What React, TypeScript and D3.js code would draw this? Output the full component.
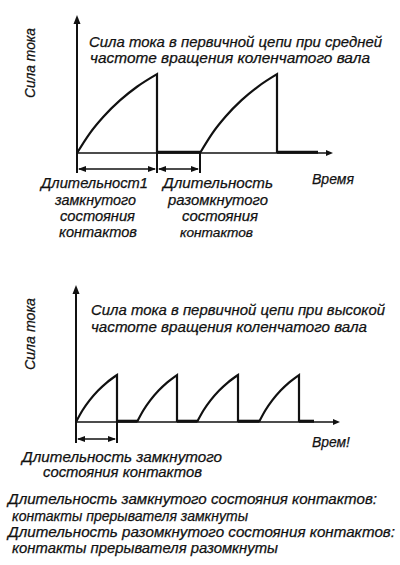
import React from "react";
import * as d3 from "d3";

// ---- data ----
const curveTime = [0, 0.16, 0.33, 0.54, 0.75, 1];
const curveRise = [0, 0.25, 0.46, 0.67, 0.84, 1];

const topClosedStart = [0, 12.3];
const topClosedEnd = [8.0, 20.0];
const topTraceEnd = 24.1;
const topPeak = 1.0;

const bottomClosedStart = [0, 6.1, 12.1, 18.3];
const bottomClosedEnd = [4.1, 10.1, 16.2, 22.3];
const bottomTraceEnd = 23.8;
const bottomPeak = 0.6;

const yAxisLabel = "Сила тока";
const topTitle = ["Сила тока в первичной цепи при средней", "частоте вращения коленчатого вала"];
const bottomTitle = ["Сила тока в первичной цепи при высокой", "частоте вращения коленчатого вала"];
const topXLabel = "Время";
const bottomXLabel = "Врем!";
const topClosedLabel = ["Длительност1", "замкнутого", "состояния", "контактов"];
const topOpenLabel = ["Длительность", "разомкнутого", "состояния", "контактов"];
const bottomClosedLabel = ["Длительность замкнутого", "состояния контактов"];
const footer = [
  "Длительность замкнутого состояния контактов:",
  "контакты прерывателя замкнуты",
  "Длительность разомкнутого состояния контактов:",
  "контакты прерывателя разомкнуты",
];

const FONT = "'Liberation Sans', Arial, sans-serif";
const INK = "#111";

function arrowHead(x: number, y: number, dir: "up" | "left" | "right", len = 7, half = 3) {
  if (dir === "up") return `M${x},${y} L${x - half},${y + len} L${x + half},${y + len} Z`;
  if (dir === "left") return `M${x},${y} L${x + len},${y - half} L${x + len},${y + half} Z`;
  return `M${x},${y} L${x - len},${y - half} L${x - len},${y + half} Z`;
}

type PanelProps = {
  x0: number;
  x1: number;
  tMax: number;
  base: number;
  top: number;
  starts: number[];
  ends: number[];
  traceEnd: number;
  peak: number;
  bracketY: number;
  brackets: [number, number][];
  ticks: number[];
};

function Panel(p: PanelProps) {
  const x = d3.scaleLinear().domain([0, p.tMax]).range([p.x0, p.x1]);
  const y = d3.scaleLinear().domain([0, 1.75]).range([p.base, p.top]);
  const line = d3
    .line<[number, number]>()
    .x((d) => x(d[0]))
    .y((d) => y(d[1]))
    .curve(d3.curveMonotoneX);
  const pulses = p.starts.map((s, i) => {
    const e = p.ends[i];
    const pts: [number, number][] = curveTime.map((t, k) => [s + t * (e - s), p.peak * curveRise[k]]);
    return (line(pts) || "") + ` L${x(e)},${y(0)}`;
  });
  const offs = p.ends.map((e, i) => [e, i + 1 < p.starts.length ? p.starts[i + 1] : p.traceEnd]);
  return (
    <g>
      <line x1={x(0)} x2={x(0)} y1={p.bracketY + 4} y2={p.top + 5} stroke={INK} strokeWidth={2} />
      <path d={arrowHead(x(0), p.top, "up", 9, 3.5)} fill={INK} />
      <line x1={x(0)} x2={p.x1 - 4} y1={y(0)} y2={y(0)} stroke={INK} strokeWidth={1.6} />
      <path d={arrowHead(p.x1, y(0), "right", 7, 3)} fill={INK} />
      {offs.map((o, i) => (
        <line key={"o" + i} x1={x(o[0])} x2={x(o[1])} y1={y(0) - 0.8} y2={y(0) - 0.8} stroke={INK} strokeWidth={3} />
      ))}
      {pulses.map((d, i) => (
        <path key={"p" + i} d={d} fill="none" stroke={INK} strokeWidth={2.2} strokeLinejoin="miter" />
      ))}
      {p.ticks.map((t, i) => (
        <line key={"t" + i} x1={x(t)} x2={x(t)} y1={y(0)} y2={p.bracketY + 4} stroke={INK} strokeWidth={2} />
      ))}
      {p.brackets.map((b, i) => (
        <g key={"b" + i}>
          <line x1={x(b[0]) + 2} x2={x(b[1]) - 2} y1={p.bracketY} y2={p.bracketY} stroke={INK} strokeWidth={1.6} />
          <path d={arrowHead(x(b[0]) + 1, p.bracketY, "left", 8, 3)} fill={INK} />
          <path d={arrowHead(x(b[1]) - 1, p.bracketY, "right", 8, 3)} fill={INK} />
        </g>
      ))}
    </g>
  );
}

type TProps = { s: string; x0: number; x1: number; y: number; size?: number; transform?: string };
function T({ s, x0, x1, y, size = 15, transform }: TProps) {
  return (
    <text
      fontFamily={FONT}
      fontStyle="italic"
      fill={INK}
      stroke={INK}
      strokeWidth={0.25}
      fontSize={size}
      x={x0}
      y={y}
      textLength={x1 - x0}
      lengthAdjust="spacingAndGlyphs"
      transform={transform}
    >
      {s}
    </text>
  );
}

export default function App() {
  return (
    <svg
      width={400}
      height={565}
      viewBox="0 0 400 565"
      style={{ position: "absolute", left: 0, top: 0, background: "#fff" }}
    >
      <rect width={400} height={565} fill="#fff" />
      <Panel
        x0={77}
        x1={333}
        tMax={25.6}
        base={153}
        top={15}
        starts={topClosedStart}
        ends={topClosedEnd}
        traceEnd={topTraceEnd}
        peak={topPeak}
        bracketY={169}
        brackets={[
          [topClosedStart[0], topClosedEnd[0]],
          [topClosedEnd[0], topClosedStart[1]],
        ]}
        ticks={[topClosedEnd[0], topClosedStart[1]]}
      />
      <Panel
        x0={76}
        x1={340}
        tMax={26.4}
        base={422}
        top={285}
        starts={bottomClosedStart}
        ends={bottomClosedEnd}
        traceEnd={bottomTraceEnd}
        peak={bottomPeak}
        bracketY={439}
        brackets={[[bottomClosedStart[0], bottomClosedEnd[0]]]}
        ticks={[bottomClosedEnd[0]]}
      />

      {/* y labels (rotated) */}
      <T s={yAxisLabel} x0={-98} x1={-28} y={35} size={15} transform="rotate(-90)" />
      <T s={yAxisLabel} x0={-370} x1={-298} y={35} size={15} transform="rotate(-90)" />

      {/* titles */}
      <T s={topTitle[0]} x0={89} x1={382} y={47} size={14.5} />
      <T s={topTitle[1]} x0={90} x1={370} y={63} size={14.5} />
      <T s={bottomTitle[0]} x0={91} x1={385} y={315} size={14.5} />
      <T s={bottomTitle[1]} x0={91} x1={367} y={332} size={14.5} />

      {/* x labels */}
      <T s={topXLabel} x0={312} x1={354} y={184} />
      <T s={bottomXLabel} x0={312} x1={350} y={447} />

      {/* top duration labels */}
      <T s={topClosedLabel[0]} x0={41} x1={148} y={188} />
      <T s={topClosedLabel[1]} x0={55} x1={136} y={204.5} />
      <T s={topClosedLabel[2]} x0={60} x1={135} y={220.5} />
      <T s={topClosedLabel[3]} x0={59} x1={137} y={237} />
      <T s={topOpenLabel[0]} x0={163} x1={273} y={188} />
      <T s={topOpenLabel[1]} x0={168} x1={268} y={204.5} />
      <T s={topOpenLabel[2]} x0={182} x1={258} y={220.5} />
      <T s={topOpenLabel[3]} x0={180} x1={253} y={237} size={12.5} />

      {/* bottom duration label */}
      <T s={bottomClosedLabel[0]} x0={22} x1={222} y={462} size={14.5} />
      <T s={bottomClosedLabel[1]} x0={43} x1={202} y={476.5} size={14.5} />

      {/* footer */}
      <T s={footer[0]} x0={8} x1={377} y={504} size={14.5} />
      <T s={footer[1]} x0={12} x1={248} y={521} size={14.5} />
      <T s={footer[2]} x0={8} x1={395} y={537} size={14.5} />
      <T s={footer[3]} x0={12} x1={278} y={553} size={14.5} />
    </svg>
  );
}
